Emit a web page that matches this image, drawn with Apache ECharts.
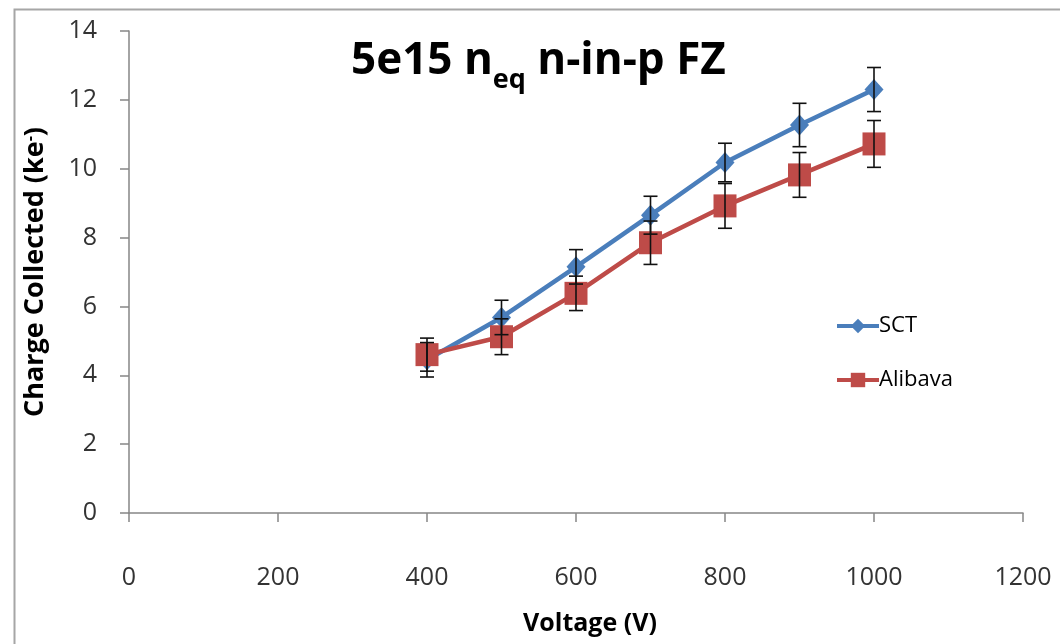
<!DOCTYPE html>
<html>
<head>
<meta charset="utf-8">
<script src="https://cdn.jsdelivr.net/npm/echarts@6/dist/echarts.min.js"></script>
<style>html,body{margin:0;padding:0;background:#fff}#c{width:1060px;height:644px}</style>
</head>
<body>
<div id="c"></div>
<script>
const voltages = [400, 500, 600, 700, 800, 900, 1000];
const sct = [4.45, 5.68, 7.15, 8.65, 10.18, 11.27, 12.3];
const sctErr = [0.5, 0.5, 0.5, 0.55, 0.56, 0.63, 0.64];
const alibava = [4.6, 5.12, 6.38, 7.85, 8.92, 9.82, 10.72];
const alibavaErr = [0.48, 0.52, 0.5, 0.63, 0.65, 0.65, 0.68];
const xTicks = [0, 200, 400, 600, 800, 1000, 1200];
const yTicks = [0, 2, 4, 6, 8, 10, 12, 14];

const FONT = '"Open Sans", "Noto Sans", sans-serif';
const BLUE = '#4A7EBB';
const RED = '#BE4B48';

function pairs(xs, ys) { return xs.map((x, i) => [x, ys[i]]); }
function errData(xs, ys, es) { return xs.map((x, i) => [x, ys[i] - es[i], ys[i] + es[i]]); }
function errRender(params, api) {
  const x = api.value(0);
  const p1 = api.coord([x, api.value(1)]);
  const p2 = api.coord([x, api.value(2)]);
  const w = 7;
  const st = { stroke: '#111', lineWidth: 1.6 };
  return {
    type: 'group',
    children: [
      { type: 'line', shape: { x1: p1[0], y1: p1[1], x2: p2[0], y2: p2[1] }, style: st },
      { type: 'line', shape: { x1: p1[0] - w, y1: p1[1], x2: p1[0] + w, y2: p1[1] }, style: st },
      { type: 'line', shape: { x1: p2[0] - w, y1: p2[1], x2: p2[0] + w, y2: p2[1] }, style: st }
    ]
  };
}

const chart = echarts.init(document.getElementById('c'), null, { renderer: 'canvas' });
chart.setOption({
  animation: false,
  backgroundColor: '#fff',
  textStyle: { fontFamily: FONT },
  graphic: [{
    type: 'rect', left: 12, top: 7, shape: { width: 1100, height: 700 },
    style: { fill: 'none', stroke: '#a6a6a6', lineWidth: 2 }, silent: true, z: -10
  }],
  title: {
    text: '{a|5e15 n}{sub|eq}{a| n-in-p FZ}',
    left: 346, top: 34,
    textStyle: {
      rich: {
        a: { fontFamily: FONT, fontSize: 44, fontWeight: 'bold', color: '#000', lineHeight: 55, verticalAlign: 'top' },
        sub: { fontFamily: FONT, fontSize: 27, fontWeight: 'bold', color: '#000', lineHeight: 10, verticalAlign: 'bottom' }
      }
    }
  },
  legend: {
    data: ['SCT', 'Alibava'],
    orient: 'vertical',
    left: 830, top: 310,
    itemWidth: 42, itemHeight: 18, itemGap: 32,
    lineStyle: { width: 4 },
    textStyle: { fontFamily: FONT, fontSize: 22, color: '#000', padding: [0, 0, 0, -5] }
  },
  grid: { left: 129, right: 37, top: 31, bottom: 131, containLabel: false, outerBoundsMode: 'none' },
  xAxis: {
    type: 'value', min: 0, max: 1200, interval: 200,
    name: 'Voltage (V)', nameLocation: 'middle', nameGap: 98,
    nameTextStyle: { fontFamily: FONT, fontSize: 25, fontWeight: 'bold', color: '#000', padding: [0, 0, 0, 28] },
    axisLine: { show: true, onZero: false, lineStyle: { color: '#868686', width: 1.5 } },
    axisTick: { show: true, length: 9, lineStyle: { color: '#868686', width: 1.5 } },
    splitLine: { show: false },
    axisLabel: { margin: 52, fontSize: 25, color: '#333', fontFamily: FONT,
      customValues: xTicks, formatter: v => String(v) }
  },
  yAxis: {
    type: 'value', min: 0, max: 14, interval: 2,
    name: '{a|Charge Collected (ke}{sup|-}{a|)}', nameLocation: 'middle', nameGap: 72, nameRotate: 90,
    nameTextStyle: {
      rich: {
        a: { fontFamily: FONT, fontSize: 27, fontWeight: 'bold', color: '#000', lineHeight: 35, verticalAlign: 'top' },
        sup: { fontFamily: FONT, fontSize: 16, fontWeight: 'bold', color: '#000', lineHeight: 12, verticalAlign: 'top' }
      }
    },
    axisLine: { show: true, lineStyle: { color: '#868686', width: 1.5 } },
    axisTick: { show: true, length: 9, lineStyle: { color: '#868686', width: 1.5 } },
    splitLine: { show: false },
    axisLabel: { margin: 32, fontSize: 25, color: '#333', fontFamily: FONT, customValues: yTicks, formatter: v => String(v) }
  },
  series: [
    {
      name: 'SCT', type: 'line', data: pairs(voltages, sct),
      symbol: 'diamond', symbolSize: [19, 21],
      lineStyle: { color: BLUE, width: 4.5 }, itemStyle: { color: BLUE }, z: 2
    },
    {
      name: 'Alibava', type: 'line', data: pairs(voltages, alibava),
      symbol: 'rect', symbolSize: 23,
      lineStyle: { color: RED, width: 4.5 }, itemStyle: { color: RED }, z: 3
    },
    { type: 'custom', renderItem: errRender, data: errData(voltages, sct, sctErr), z: 5, silent: true },
    { type: 'custom', renderItem: errRender, data: errData(voltages, alibava, alibavaErr), z: 5, silent: true }
  ]
});
</script>
</body>
</html>
